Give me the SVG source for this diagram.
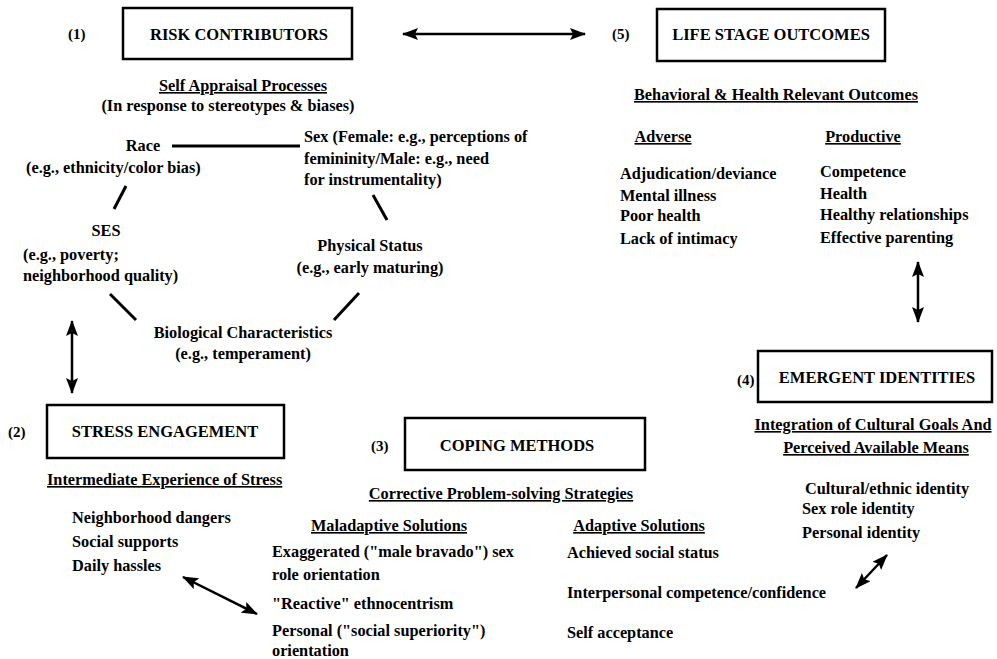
<svg xmlns="http://www.w3.org/2000/svg" width="997" height="659" viewBox="0 0 997 659">
<defs>
<marker id="ah" viewBox="0 0 16 12" refX="15" refY="6" markerWidth="16" markerHeight="12" markerUnits="userSpaceOnUse" orient="auto-start-reverse">
<path d="M0,0 L16,6 L0,12 L3,6 Z" fill="#000"/>
</marker>
</defs>
<style>
text{font-family:"Liberation Serif","Times New Roman",serif;font-weight:bold;fill:#000;font-size:16.3px}
.t{font-size:16.5px}
.n{font-size:15px}
.u{text-decoration:underline}
.c{text-anchor:middle}
.box{fill:#fff;stroke:#000;stroke-width:2.5}
.ln{stroke:#000;stroke-width:3;fill:none}
.ar{stroke:#000;stroke-width:2.5;fill:none;marker-start:url(#ah);marker-end:url(#ah)}
</style>
<rect width="997" height="659" fill="#fff"/>

<g id="connectors">
<line class="ar" x1="403" y1="34" x2="585" y2="34"/>
<line class="ln" x1="172" y1="146" x2="300" y2="146"/>
<line class="ln" x1="126" y1="186" x2="114" y2="209"/>
<line class="ln" x1="373" y1="195" x2="387" y2="220"/>
<line class="ln" x1="110" y1="294" x2="136" y2="320"/>
<line class="ln" x1="334" y1="320" x2="359" y2="293"/>
<line class="ar" x1="72" y1="321" x2="72" y2="393"/>
<line class="ar" x1="183" y1="577" x2="257" y2="614"/>
<line class="ar" x1="918" y1="262" x2="918" y2="322"/>
<line class="ar" x1="887" y1="555" x2="856" y2="588"/>
</g>

<g id="risk-contributors">
<text class="n" x="68" y="39">(1)</text>
<rect class="box" x="123" y="8" width="229" height="51"/>
<text class="t c" x="239" y="40">RISK CONTRIBUTORS</text>
<text class="u c" x="243" y="91">Self Appraisal Processes</text>
<text class="c" x="228" y="111">(In response to stereotypes &amp; biases)</text>
<text class="c" x="143" y="151">Race</text>
<text x="26" y="173">(e.g., ethnicity/color bias)</text>
<text x="304" y="142">Sex (Female: e.g., perceptions of</text>
<text x="304" y="164">femininity/Male: e.g., need</text>
<text x="304" y="185">for instrumentality)</text>
<text class="c" x="106" y="236">SES</text>
<text x="23" y="260">(e.g., poverty;</text>
<text x="23" y="281">neighborhood quality)</text>
<text class="c" x="370" y="251">Physical Status</text>
<text class="c" x="370" y="273">(e.g., early maturing)</text>
<text class="c" x="243" y="338">Biological Characteristics</text>
<text class="c" x="243" y="359">(e.g., temperament)</text>
</g>

<g id="life-stage-outcomes">
<text class="n" x="612" y="39">(5)</text>
<rect class="box" x="657" y="9" width="228" height="52"/>
<text class="t c" x="771" y="40">LIFE STAGE OUTCOMES</text>
<text class="u c" x="776" y="100">Behavioral &amp; Health Relevant Outcomes</text>
<text class="u c" x="663" y="142">Adverse</text>
<text class="u c" x="863" y="142">Productive</text>
<text x="620" y="179">Adjudication/deviance</text>
<text x="620" y="201">Mental illness</text>
<text x="620" y="221">Poor health</text>
<text x="620" y="244">Lack of intimacy</text>
<text x="820" y="177">Competence</text>
<text x="820" y="199">Health</text>
<text x="820" y="220">Healthy relationships</text>
<text x="820" y="243">Effective parenting</text>
</g>

<g id="stress-engagement">
<text class="n" x="8" y="437">(2)</text>
<rect class="box" x="47" y="405" width="237" height="53"/>
<text class="t c" x="165" y="437">STRESS ENGAGEMENT</text>
<text class="u" x="47" y="485">Intermediate Experience of Stress</text>
<text x="72" y="523">Neighborhood dangers</text>
<text x="72" y="547">Social supports</text>
<text x="72" y="571">Daily hassles</text>
</g>

<g id="coping-methods">
<text class="n" x="371" y="451">(3)</text>
<rect class="box" x="405" y="418" width="240" height="52"/>
<text class="t c" x="517" y="451">COPING METHODS</text>
<text class="u c" x="501" y="499">Corrective Problem-solving Strategies</text>
<text class="u c" x="389" y="531">Maladaptive Solutions</text>
<text x="272" y="557">Exaggerated ("male bravado") sex</text>
<text x="272" y="580">role orientation</text>
<text x="272" y="609">"Reactive" ethnocentrism</text>
<text x="272" y="636">Personal ("social superiority")</text>
<text x="272" y="656">orientation</text>
<text class="u c" x="639" y="531">Adaptive Solutions</text>
<text x="567" y="558">Achieved social status</text>
<text x="567" y="598">Interpersonal competence/confidence</text>
<text x="567" y="638">Self acceptance</text>
</g>

<g id="emergent-identities">
<text class="n" x="737" y="385">(4)</text>
<rect class="box" x="758" y="351" width="234" height="51"/>
<text class="t c" x="877" y="383">EMERGENT IDENTITIES</text>
<text class="u c" x="873" y="430">Integration of Cultural Goals And</text>
<text class="u c" x="876" y="453">Perceived Available Means</text>
<text x="805" y="494">Cultural/ethnic identity</text>
<text x="802" y="514">Sex role identity</text>
<text x="802" y="538">Personal identity</text>
</g>
</svg>
